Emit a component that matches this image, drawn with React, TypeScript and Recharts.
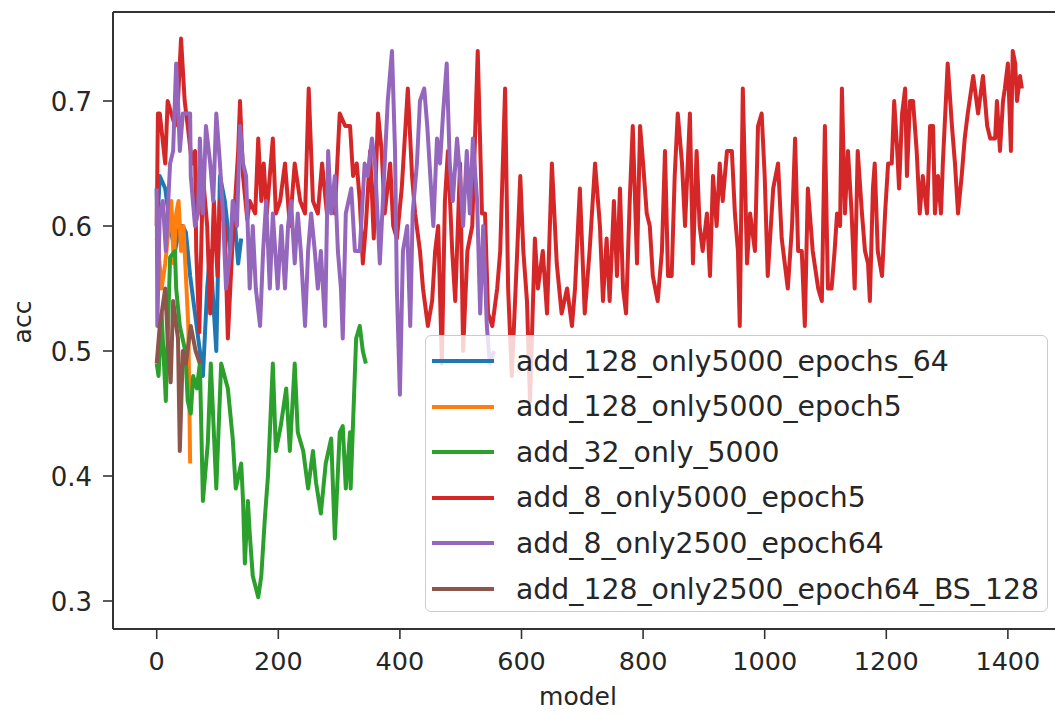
import { LineChart, Line, XAxis, YAxis, Legend, ReferenceLine } from 'recharts';

// [model, acc] pairs
const blue: [number, number][] = [
  [0, 0.63], [1, 0.60], [5, 0.64], [14, 0.63], [22, 0.60], [30, 0.58], [38, 0.60], [43, 0.60],
  [48, 0.595], [55, 0.56], [63, 0.53], [71, 0.50], [76, 0.48], [83, 0.55], [88, 0.58], [93, 0.54],
  [98, 0.50], [104, 0.64], [112, 0.62], [121, 0.58], [129, 0.60], [134, 0.57], [139, 0.59],
];

const orange: [number, number][] = [
  [0, 0.59], [3, 0.58], [8, 0.55], [14, 0.57], [20, 0.60], [24, 0.62], [28, 0.57], [32, 0.61],
  [36, 0.62], [40, 0.58], [44, 0.60], [48, 0.56], [52, 0.52], [55, 0.41],
];

const green: [number, number][] = [
  [0, 0.49], [3, 0.48], [8, 0.53], [15, 0.46], [22, 0.575], [30, 0.58], [32, 0.55], [38, 0.52],
  [47, 0.50], [51, 0.46], [56, 0.45], [60, 0.48], [66, 0.47], [71, 0.49], [76, 0.38], [84, 0.426],
  [89, 0.49], [98, 0.39], [106, 0.49], [117, 0.47], [125, 0.43], [130, 0.39], [139, 0.41], [142, 0.38],
  [145, 0.33], [150, 0.38], [153, 0.354], [158, 0.32], [167, 0.303], [172, 0.32], [178, 0.367], [183, 0.40],
  [191, 0.49], [196, 0.42], [204, 0.44], [213, 0.47], [219, 0.42], [227, 0.49], [232, 0.435], [241, 0.42],
  [249, 0.39], [257, 0.42], [262, 0.395], [270, 0.37], [278, 0.41], [287, 0.43], [293, 0.35], [301, 0.435],
  [306, 0.44], [311, 0.39], [318, 0.435], [319, 0.39], [328, 0.51], [334, 0.52], [339, 0.50], [344, 0.49],
];

const red: [number, number][] = [
  [0, 0.60], [2, 0.69], [5, 0.69], [14, 0.65], [18, 0.70], [30, 0.68], [35, 0.70], [40, 0.75],
  [46, 0.70], [51, 0.68], [58, 0.65], [63, 0.66], [65, 0.58], [70, 0.515], [76, 0.64], [83, 0.60],
  [88, 0.53], [94, 0.62], [100, 0.56], [104, 0.62], [112, 0.60], [117, 0.51], [124, 0.58], [129, 0.62],
  [134, 0.66], [137, 0.70], [142, 0.64], [149, 0.605], [153, 0.62], [162, 0.61], [167, 0.67], [172, 0.62],
  [176, 0.65], [181, 0.61], [186, 0.64], [191, 0.67], [196, 0.61], [203, 0.62], [211, 0.65], [219, 0.60],
  [227, 0.65], [236, 0.62], [244, 0.61], [250, 0.71], [257, 0.62], [265, 0.61], [272, 0.65], [280, 0.61],
  [285, 0.62], [293, 0.61], [301, 0.69], [310, 0.68], [318, 0.68], [323, 0.64], [329, 0.65], [334, 0.62],
  [339, 0.57], [344, 0.60], [351, 0.66], [357, 0.59], [364, 0.69], [370, 0.66], [375, 0.61], [384, 0.65],
  [389, 0.60], [395, 0.59], [403, 0.63], [413, 0.71], [420, 0.64], [425, 0.61], [433, 0.58], [438, 0.55],
  [446, 0.52], [453, 0.54], [458, 0.58], [463, 0.60], [469, 0.49], [474, 0.62], [479, 0.66], [486, 0.58],
  [491, 0.54], [499, 0.65], [504, 0.50], [511, 0.58], [519, 0.60], [528, 0.74], [535, 0.61], [540, 0.61],
  [545, 0.53], [552, 0.52], [560, 0.55], [565, 0.58], [573, 0.71], [578, 0.55], [584, 0.48], [593, 0.58],
  [598, 0.64], [603, 0.58], [609, 0.54], [614, 0.46], [622, 0.59], [627, 0.55], [635, 0.58], [642, 0.53],
  [650, 0.65], [658, 0.57], [666, 0.53], [675, 0.55], [683, 0.52], [688, 0.55], [696, 0.63], [704, 0.53],
  [712, 0.58], [721, 0.65], [729, 0.60], [734, 0.54], [740, 0.59], [745, 0.54], [752, 0.62], [757, 0.56],
  [762, 0.63], [767, 0.55], [772, 0.53], [778, 0.62], [783, 0.68], [790, 0.57], [795, 0.68], [800, 0.65],
  [806, 0.61], [811, 0.60], [816, 0.56], [824, 0.54], [831, 0.58], [836, 0.66], [841, 0.56], [847, 0.56],
  [852, 0.64], [857, 0.69], [864, 0.65], [869, 0.60], [877, 0.69], [882, 0.57], [888, 0.66], [893, 0.60],
  [898, 0.58], [905, 0.61], [910, 0.56], [915, 0.64], [921, 0.60], [926, 0.65], [931, 0.62], [938, 0.66],
  [946, 0.66], [951, 0.61], [956, 0.58], [959, 0.52], [964, 0.71], [971, 0.57], [976, 0.61], [984, 0.58],
  [989, 0.68], [995, 0.69], [1000, 0.64], [1005, 0.56], [1014, 0.63], [1022, 0.65], [1028, 0.59], [1033, 0.57],
  [1038, 0.55], [1045, 0.60], [1050, 0.67], [1055, 0.58], [1061, 0.58], [1066, 0.52], [1071, 0.63], [1079, 0.58],
  [1088, 0.55], [1094, 0.54], [1099, 0.68], [1104, 0.55], [1110, 0.55], [1115, 0.58], [1119, 0.61], [1124, 0.60],
  [1127, 0.71], [1132, 0.61], [1137, 0.66], [1143, 0.61], [1148, 0.55], [1153, 0.66], [1160, 0.61], [1165, 0.58],
  [1170, 0.57], [1173, 0.54], [1178, 0.63], [1181, 0.65], [1186, 0.58], [1193, 0.56], [1198, 0.61], [1203, 0.65],
  [1209, 0.65], [1213, 0.70], [1218, 0.66], [1221, 0.63], [1226, 0.69], [1231, 0.71], [1234, 0.64], [1239, 0.70],
  [1244, 0.70], [1250, 0.66], [1255, 0.61], [1260, 0.64], [1267, 0.61], [1272, 0.68], [1277, 0.68], [1280, 0.61],
  [1285, 0.64], [1290, 0.61], [1293, 0.65], [1301, 0.73], [1308, 0.68], [1313, 0.65], [1318, 0.61], [1324, 0.64],
  [1329, 0.67], [1334, 0.69], [1343, 0.72], [1351, 0.69], [1359, 0.72], [1366, 0.68], [1371, 0.67], [1379, 0.67],
  [1382, 0.70], [1387, 0.66], [1392, 0.70], [1395, 0.71], [1400, 0.73], [1405, 0.66], [1408, 0.74], [1412, 0.73],
  [1415, 0.70], [1420, 0.72], [1423, 0.71],
];

const purple: [number, number][] = [
  [0, 0.63], [1, 0.52], [5, 0.61], [10, 0.62], [15, 0.58], [22, 0.65], [27, 0.66], [32, 0.73],
  [35, 0.70], [38, 0.66], [43, 0.69], [48, 0.69], [55, 0.69], [56, 0.64], [63, 0.60], [68, 0.61],
  [71, 0.67], [76, 0.61], [81, 0.68], [88, 0.65], [93, 0.62], [98, 0.69], [104, 0.65], [109, 0.61],
  [114, 0.55], [121, 0.58], [125, 0.62], [132, 0.60], [137, 0.68], [142, 0.65], [147, 0.64], [153, 0.55],
  [158, 0.60], [163, 0.55], [170, 0.52], [175, 0.58], [180, 0.62], [186, 0.55], [191, 0.61], [199, 0.55],
  [205, 0.60], [211, 0.55], [216, 0.60], [221, 0.62], [227, 0.57], [232, 0.61], [237, 0.58], [244, 0.52],
  [249, 0.58], [254, 0.61], [260, 0.58], [265, 0.55], [270, 0.58], [277, 0.52], [282, 0.66], [287, 0.61],
  [293, 0.64], [298, 0.58], [303, 0.55], [306, 0.51], [311, 0.61], [320, 0.63], [326, 0.58], [334, 0.58],
  [342, 0.65], [347, 0.64], [354, 0.67], [359, 0.65], [364, 0.60], [367, 0.57], [372, 0.62], [380, 0.70],
  [387, 0.74], [392, 0.66], [395, 0.55], [400, 0.465], [405, 0.58], [412, 0.60], [417, 0.52], [421, 0.61],
  [428, 0.65], [433, 0.70], [440, 0.71], [445, 0.68], [450, 0.64], [455, 0.60], [461, 0.67], [466, 0.65],
  [471, 0.69], [477, 0.73], [482, 0.65], [487, 0.62], [494, 0.67], [499, 0.64], [504, 0.60], [510, 0.66],
  [515, 0.61], [520, 0.67], [527, 0.62], [532, 0.53], [537, 0.60], [543, 0.52], [548, 0.49], [555, 0.50],
];

const brown: [number, number][] = [
  [0, 0.49], [5, 0.52], [14, 0.55], [18, 0.51], [23, 0.475], [27, 0.54], [35, 0.51], [38, 0.42],
  [43, 0.50], [48, 0.49], [56, 0.52], [64, 0.50], [71, 0.49],
];

const xTicks = [0, 200, 400, 600, 800, 1000, 1200, 1400];
const yTicks = [0.3, 0.4, 0.5, 0.6, 0.7];
const X_DOMAIN: [number, number] = [-71.9, 1477.5];
const Y_DOMAIN: [number, number] = [0.2776, 0.7712];

const series = [
  { name: 'add_128_only5000_epochs_64', color: '#1f77b4', points: blue },
  { name: 'add_128_only5000_epoch5', color: '#ff7f0e', points: orange },
  { name: 'add_32_only_5000', color: '#2ca02c', points: green },
  { name: 'add_8_only5000_epoch5', color: '#d62728', points: red },
  { name: 'add_8_only2500_epoch64', color: '#9467bd', points: purple },
  { name: 'add_128_only2500_epoch64_BS_128', color: '#8c564b', points: brown },
];

const FONT = "'DejaVu Sans', sans-serif";
const TEXT = '#262626';
const AXIS = '#333333';

function XTick(props: any) {
  const { x, y, payload } = props;
  return (
    <text x={x} y={y + 29} textAnchor="middle" fontSize={25.5} fontFamily={FONT} fill={TEXT}>
      {payload.value}
    </text>
  );
}

function YTick(props: any) {
  const { x, y, payload } = props;
  return (
    <text x={x - 9} y={y + 9.5} textAnchor="end" fontSize={26} fontFamily={FONT} fill={TEXT}>
      {Number(payload.value).toFixed(1)}
    </text>
  );
}

function renderLegend() {
  return (
    <div
      style={{
        position: 'relative',
        width: 623,
        height: 277,
        boxSizing: 'border-box',
        border: '1.5px solid #cccccc',
        borderRadius: 6,
        background: 'rgba(255,255,255,0.8)',
      }}
    >
      {series.map((s, i) => (
        <div
          key={s.name}
          style={{
            position: 'absolute',
            left: 6,
            top: 25 + i * 45.6 - 20,
            height: 40,
            display: 'flex',
            alignItems: 'center',
            whiteSpace: 'nowrap',
          }}
        >
          <div style={{ width: 62, height: 4, background: s.color }} />
          <span style={{ marginLeft: 22, fontFamily: FONT, fontSize: 28.3, color: TEXT }}>{s.name}</span>
        </div>
      ))}
    </div>
  );
}

export default function App() {
  return (
    <div style={{ position: 'absolute', left: 0, top: 0, width: 1055, height: 714, overflow: 'hidden', background: '#fff' }}>
      <LineChart width={1055} height={714} margin={{ top: 12, right: 0, bottom: 0, left: 0 }}>
        <XAxis
          type="number"
          dataKey="model"
          domain={X_DOMAIN}
          allowDataOverflow
          ticks={xTicks}
          tick={<XTick />}
          tickSize={10}
          height={85}
          axisLine={{ stroke: AXIS, strokeWidth: 2 }}
          tickLine={{ stroke: AXIS, strokeWidth: 1.6 }}
          label={{
            content: () => (
              <text x={578} y={705} textAnchor="middle" fontSize={25} fontFamily={FONT} fill={TEXT}>
                model
              </text>
            ),
          }}
        />
        <YAxis
          type="number"
          domain={Y_DOMAIN}
          allowDataOverflow
          ticks={yTicks}
          tick={<YTick />}
          tickSize={10}
          width={113}
          axisLine={{ stroke: AXIS, strokeWidth: 2 }}
          tickLine={{ stroke: AXIS, strokeWidth: 1.6 }}
          label={{
            content: () => (
              <text transform="translate(31, 322) rotate(-90)" textAnchor="middle" fontSize={25} fontFamily={FONT} fill={TEXT}>
                acc
              </text>
            ),
          }}
        />
        <ReferenceLine y={Y_DOMAIN[1]} stroke={AXIS} strokeWidth={2} />
        {series.map((s) => (
          <Line
            key={s.name}
            name={s.name}
            data={s.points.map(([model, acc]) => ({ model, acc }))}
            dataKey="acc"
            type="linear"
            stroke={s.color}
            strokeWidth={4}
            strokeLinejoin="round"
            dot={false}
            activeDot={false}
            isAnimationActive={false}
          />
        ))}
        <Legend
          content={renderLegend}
          layout="vertical"
          align="center"
          verticalAlign="middle"
          wrapperStyle={{ left: 425, top: 335, width: 623, height: 277 }}
        />
      </LineChart>
    </div>
  );
}
